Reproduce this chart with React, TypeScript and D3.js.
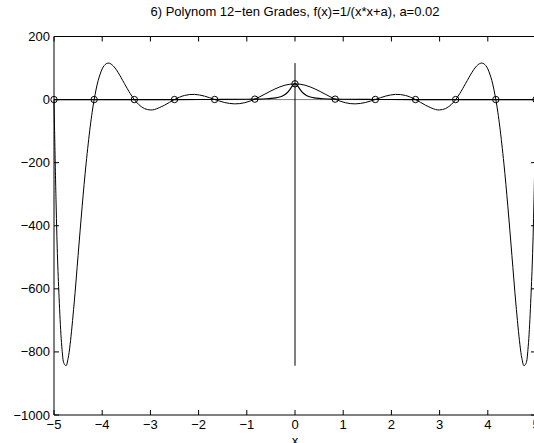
import React from "react";
import * as d3 from "d3";

// Interpolation nodes (13 equidistant points on [-5, 5]) and f at those nodes
const nodeX = [-5, -4.1667, -3.3333, -2.5, -1.6667, -0.8333, 0, 0.8333, 1.6667, 2.5, 3.3333, 4.1667, 5];
const nodeY = [0.04, 0.058, 0.09, 0.159, 0.357, 1.4, 50, 1.4, 0.357, 0.159, 0.09, 0.058, 0.04];

// Degree-12 interpolating polynomial, sampled
const polyX = [
  -5, -4.9583, -4.9167, -4.8333, -4.7917, -4.75, -4.7083, -4.6667, -4.5833, -4.5, -4.4167, -4.3333,
  -4.25, -4.2083, -4.1667, -4.0833, -4.0, -3.9583, -3.9167, -3.875, -3.8333, -3.75, -3.6667, -3.5417,
  -3.4167, -3.3333, -3.25, -3.125, -3.0, -2.9167, -2.7083, -2.5, -2.2917, -2.0833, -1.875, -1.6667,
  -1.4583, -1.25, -1.0417, -0.8333, -0.625, -0.4167, -0.2083, 0,
  0.2083, 0.4167, 0.625, 0.8333, 1.0417, 1.25, 1.4583, 1.6667, 1.875, 2.0833, 2.2917, 2.5,
  2.7083, 2.9167, 3.0, 3.125, 3.25, 3.3333, 3.4167, 3.5417, 3.6667, 3.75, 3.8333, 3.875,
  3.9167, 3.9583, 4.0, 4.0833, 4.1667, 4.2083, 4.25, 4.3333, 4.4167, 4.5, 4.5833, 4.6667,
  4.7083, 4.75, 4.7917, 4.8333, 4.9167, 4.9583, 5,
];
const polyY = [
  0.04, -317.66, -545.23, -791.81, -836.77, -843.71, -821.45, -777.45, -648.12, -493.87, -339.9, -201.62,
  -87.27, -40.18, 0.06, 60.73, 97.33, 107.78, 113.71, 115.68, 114.25, 103.35, 85.11, 51.59,
  18.67, 0.09, -14.58, -28.43, -32.9, -31.47, -17.91, 0.16, 13.14, 16.49, 10.82, 0.36,
  -9.36, -13.6, -9.88, 1.4, 17.35, 33.59, 45.59, 50,
  45.59, 33.59, 17.35, 1.4, -9.88, -13.6, -9.36, 0.36, 10.82, 16.49, 13.14, 0.16,
  -17.91, -31.47, -32.9, -28.43, -14.58, 0.09, 18.67, 51.59, 85.11, 103.35, 114.25, 115.68,
  113.71, 107.78, 97.33, 60.73, 0.06, -40.18, -87.27, -201.62, -339.9, -493.87, -648.12, -777.45,
  -821.45, -843.71, -836.77, -791.81, -545.23, -317.66, 0.04,
];

// f(x) = 1/(x*x + 0.02), sampled
const fX = [
  -5, -4, -3, -2, -1.5, -1, -0.8, -0.6, -0.5, -0.4, -0.3, -0.25, -0.2, -0.15, -0.12, -0.1, -0.08, -0.06, -0.04, -0.02,
  0, 0.02, 0.04, 0.06, 0.08, 0.1, 0.12, 0.15, 0.2, 0.25, 0.3, 0.4, 0.5, 0.6, 0.8, 1, 1.5, 2, 3, 4, 5,
];
const fY = [
  0.04, 0.062, 0.11, 0.25, 0.44, 0.98, 1.52, 2.63, 3.7, 5.56, 9.09, 12.12, 16.67, 23.53, 29.07, 33.33, 37.88, 42.37, 46.3, 49.02,
  50, 49.02, 46.3, 42.37, 37.88, 33.33, 29.07, 23.53, 16.67, 12.12, 9.09, 5.56, 3.7, 2.63, 1.52, 0.98, 0.44, 0.25, 0.11, 0.062, 0.04,
];

const xTicks = [-5, -4, -3, -2, -1, 0, 1, 2, 3, 4, 5];
const yTicks = [-1000, -800, -600, -400, -200, 0, 200];

const titleText = "6) Polynom 12\u2212ten Grades, f(x)=1/(x*x+a), a=0.02";
const xLabel = "x";

const W = 534;
const H = 443;
const left = 54;
const right = 536;
const top = 36.5;
const bottom = 415;
const FONT = "'Liberation Sans', Arial, Helvetica, sans-serif";

const fmt = (v: number) => (v < 0 ? "\u2212" + Math.abs(v) : String(v));

export default function App() {
  const x = d3.scaleLinear().domain([-5, 5]).range([left, right]);
  const y = d3.scaleLinear().domain([-1000, 200]).range([bottom, top]);

  const polyLine = d3
    .line<number>()
    .x((_, i) => x(polyX[i]))
    .y((d) => y(d))
    .curve(d3.curveCatmullRom.alpha(0.5));
  const fLine = d3
    .line<number>()
    .x((_, i) => x(fX[i]))
    .y((d) => y(d))
    .curve(d3.curveMonotoneX);

  const yMin = d3.min(polyY) as number;
  const yMax = d3.max(polyY) as number;
  const tick = 5;

  return (
    <svg
      width={W}
      height={H}
      style={{ position: "absolute", left: 0, top: 0, background: "#fff" }}
      fontFamily={FONT}
    >
      <rect x={0} y={0} width={W} height={H} fill="#fff" />

      {/* zero line */}
      <line x1={x(-5)} x2={x(5)} y1={y(0)} y2={y(0)} stroke="#808080" strokeWidth={1} />

      {/* f(x) */}
      <path d={fLine(fY) || ""} fill="none" stroke="#000" strokeWidth={1.2} />

      {/* polynomial */}
      <path d={polyLine(polyY) || ""} fill="none" stroke="#000" strokeWidth={1} />

      {/* range of the polynomial at x = 0 */}
      <line x1={x(0)} x2={x(0)} y1={y(yMin)} y2={y(yMax)} stroke="#000" strokeWidth={1} />

      {/* nodes */}
      {nodeX.map((v, i) => (
        <circle key={i} cx={x(v)} cy={y(nodeY[i])} r={3.2} fill="none" stroke="#000" strokeWidth={1} />
      ))}

      {/* axes box */}
      <line x1={left} x2={right} y1={top} y2={top} stroke="#000" strokeWidth={1} />
      <line x1={left} x2={right} y1={bottom} y2={bottom} stroke="#000" strokeWidth={1} />
      <line x1={left} x2={left} y1={top} y2={bottom} stroke="#000" strokeWidth={1} />
      <line x1={right} x2={right} y1={top} y2={bottom} stroke="#000" strokeWidth={1} />

      {xTicks.map((t) => (
        <g key={"x" + t}>
          <line x1={x(t)} x2={x(t)} y1={bottom} y2={bottom - tick} stroke="#000" />
          <line x1={x(t)} x2={x(t)} y1={top} y2={top + tick} stroke="#000" />
          <text x={x(t)} y={429} textAnchor="middle" fontSize={13} fill="#000">
            {fmt(t)}
          </text>
        </g>
      ))}
      {yTicks.map((t) => (
        <g key={"y" + t}>
          <line x1={left} x2={left + tick} y1={y(t)} y2={y(t)} stroke="#000" />
          <line x1={right} x2={right - tick} y1={y(t)} y2={y(t)} stroke="#000" />
          <text x={left - 4} y={y(t) + 4.5} textAnchor="end" fontSize={13} fill="#000">
            {fmt(t)}
          </text>
        </g>
      ))}

      <text x={(left + right) / 2} y={15.5} textAnchor="middle" fontSize={13} fill="#000">
        {titleText}
      </text>
      <text x={x(0)} y={445} textAnchor="middle" fontSize={13} fill="#000">
        {xLabel}
      </text>
    </svg>
  );
}
